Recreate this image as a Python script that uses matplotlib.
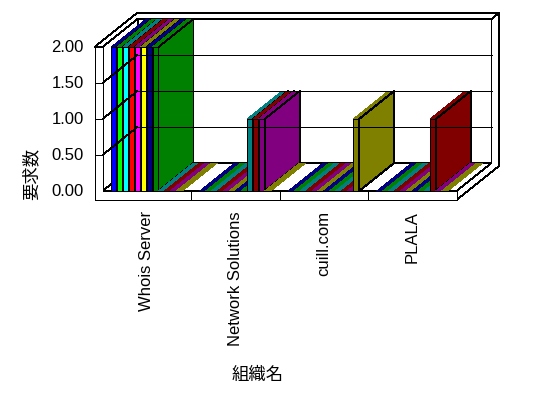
import matplotlib
matplotlib.use('Agg')
import matplotlib.pyplot as plt
from matplotlib.patches import Polygon

categories = ['Whois Server', 'Network Solutions', 'cuill.com', 'PLALA']
# one row per series, one value per category
series_values = [
    [2, 0, 0, 0],
    [2, 0, 0, 0],
    [2, 0, 0, 0],
    [2, 0, 0, 0],
    [2, 0, 0, 0],
    [2, 0, 0, 0],
    [2, 0, 0, 0],
    [2, 0, 0, 0],
    [0, 1, 0, 0],
    [0, 1, 0, 1],
    [0, 1, 0, 0],
    [0, 0, 1, 0],
]
front_colors = ['#0000ff', '#00ff00', '#00ffff', '#ff0000', '#ff00ff', '#ffff00',
                '#000080', '#008000', '#008080', '#800000', '#800080', '#808000']
top_colors = ['#000080', '#008000', '#008080', '#800000', '#800080', '#808000'] * 2
y_ticks = [0.0, 0.5, 1.0, 1.5, 2.0]
x_title = '組織名'
y_title = '要求数'

# scale: pixels per category / per unit of value
CAT_PX = 88.5
VAL_PX = 72.0
DX = 35 / CAT_PX      # depth offset
DY = 28 / VAL_PX
TX = 7.5 / CAT_PX     # back wall thickness
TY = 6 / VAL_PX
WALL = 8 / CAT_PX     # left wall thickness
FLOOR = 9 / VAL_PX    # floor thickness
YMAX = y_ticks[-1]
N = len(categories)
LW = 0.6

fig = plt.figure(figsize=(5.48, 3.98), dpi=100)
ax = fig.add_axes([0, 0, 1, 1])
ax.set_xlim(-102.5 / CAT_PX, (548 - 102.5) / CAT_PX)
ax.set_ylim((191 - 398) / VAL_PX, 191 / VAL_PX)
ax.axis('off')


def poly(pts, fc='white', ec='black', lw=LW):
    ax.add_patch(Polygon(pts, closed=True, facecolor=fc, edgecolor=ec,
                         linewidth=lw, joinstyle='miter', antialiased=False))


def line(xs, ys):
    ax.plot(xs, ys, color='black', lw=LW, solid_capstyle='butt', antialiased=False)


# back wall
poly([(DX, DY), (N + DX, DY), (N + DX, YMAX + DY), (DX, YMAX + DY)])
for v in y_ticks[1:-1]:
    line([DX, N + DX], [v + DY, v + DY])

# left wall inner face
poly([(0, 0), (DX, DY), (DX, YMAX + DY), (0, YMAX)])
for v in y_ticks[1:-1]:
    line([0, DX], [v, v + DY])

# top of the walls
poly([(-WALL, YMAX), (-WALL + DX + TX, YMAX + DY + TY), (N + DX + TX, YMAX + DY + TY),
      (N + DX, YMAX + DY), (DX, YMAX + DY), (0, YMAX)])

# right side of back wall and floor
poly([(N, 0), (N, -FLOOR), (N + DX + TX, -FLOOR + DY + TY), (N + DX + TX, YMAX + DY + TY),
      (N + DX, YMAX + DY), (N + DX, DY)])

# floor
poly([(0, 0), (N, 0), (N + DX, DY), (DX, DY)])

# front of left wall and floor
poly([(-WALL, -FLOOR), (N, -FLOOR), (N, 0), (0, 0), (0, YMAX), (-WALL, YMAX)])
for v in y_ticks[1:-1]:
    line([-WALL, 0], [v, v])
for c in range(1, N):
    line([c, c], [-FLOOR, 0])

# bars
n_series = len(series_values)
bw = 0.8 / n_series
for c in range(N):
    for s in range(n_series):
        v = series_values[s][c]
        x0 = c + 0.1 + s * bw
        top = [(x0, v), (x0 + bw, v), (x0 + bw + DX, v + DY), (x0 + DX, v + DY)]
        if v == 0:
            poly(top, fc=top_colors[s], ec='none', lw=0)
            continue
        poly([(x0, 0), (x0 + bw, 0), (x0 + bw, v), (x0, v)], fc=front_colors[s])
        poly(top, fc=top_colors[s], ec='none', lw=0)
        poly([(x0 + bw, 0), (x0 + bw + DX, DY), (x0 + bw + DX, v + DY), (x0 + bw, v)],
             fc=front_colors[s])

# tick labels
for v in y_ticks:
    ax.text(-WALL - 11 / CAT_PX, v, '%.2f' % v, ha='right', va='center',
            fontsize=12, family='Liberation Sans')
for c, name in enumerate(categories):
    ax.text(c + 0.5, -FLOOR - 11 / VAL_PX, name, rotation=90, ha='center', va='top',
            fontsize=12, family='Liberation Sans')

cjk = ['Noto Sans CJK JP', 'DejaVu Sans']
ax.text((258 - 102.5) / CAT_PX, (191 - 375) / VAL_PX, x_title, ha='center', va='center',
        fontsize=12.5, family=cjk)
ax.text((31 - 102.5) / CAT_PX, (191 - 174) / VAL_PX, y_title, rotation=90, ha='center',
        va='center', fontsize=12.5, family=cjk)

fig.savefig('out.png', dpi=100)
